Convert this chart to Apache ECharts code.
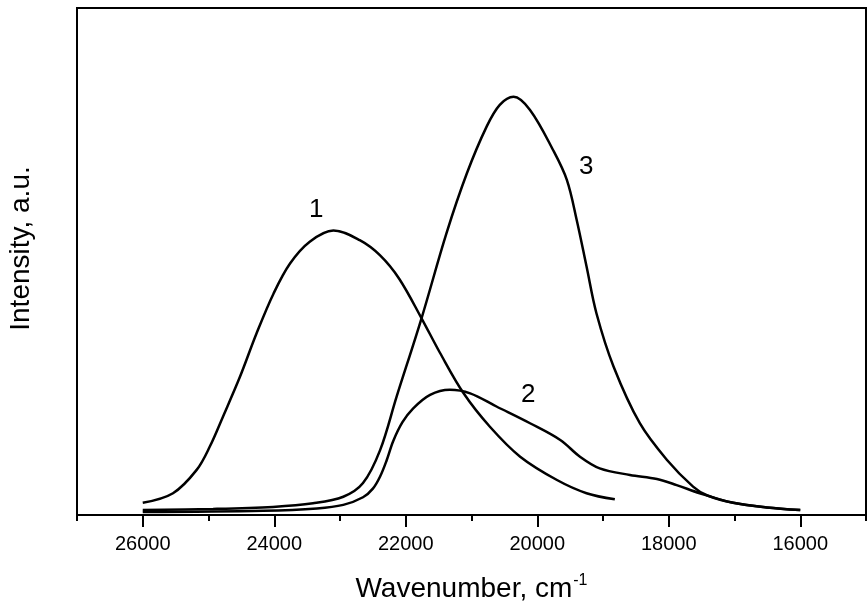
<!DOCTYPE html>
<html>
<head>
<meta charset="utf-8">
<script src="https://cdn.jsdelivr.net/npm/echarts@6/dist/echarts.min.js"></script>
<style>
html,body{margin:0;padding:0;background:#fff;}
#main{width:867px;height:603px;}
</style>
</head>
<body>
<div id="main"></div>
<script>
// curve 1
var curve1X=[26000,25540,25180,24980,24780,24520,24270,24010,23760,23460,23100,22700,22390,22100,21760,21480,21120,20720,20260,19700,19250,18820];
var curve1Y=[2.4,4.3,8.9,13.5,19.4,27.3,35.8,43.7,49.6,53.9,56.1,54.2,51.2,46.6,38.8,32.0,24.0,17.4,11.5,6.9,4.3,3.1];
// curve 2
var curve2X=[26000,24170,23350,22950,22650,22500,22390,22290,22190,22050,21890,21630,21330,21020,20620,20110,19650,19350,19050,18590,18180,17880,17530,17020,16510,16000];
var curve2Y=[0.6,0.85,1.3,2.0,3.5,5.2,7.6,10.8,14.6,18.3,21.0,23.7,24.7,24.0,21.4,18.1,14.8,11.5,9.2,7.9,7.1,5.9,4.3,2.4,1.5,1.0];
// curve 3
var curve3X=[26000,24930,24020,23410,22950,22650,22390,22140,21760,21380,21070,20770,20570,20360,20110,19760,19550,19400,19250,19100,18840,18440,18030,17630,17420,17020,16510,16000];
var curve3Y=[1.0,1.2,1.6,2.3,3.6,6.3,12.8,23.3,38.8,55.6,67.4,76.6,80.9,82.5,79.9,72.0,66.1,58.2,49.0,39.8,29.3,18.1,10.9,5.6,3.9,2.4,1.5,1.0];

var majorTicks=[26000,24000,22000,20000,18000,16000];
var minorTicks=[27000,25000,23000,21000,19000,17000,15000];

var curveNames=['1','2','3'];

function pairs(xs,ys){
	var out=[];
	for(var i=0;i<xs.length;i++){
		out.push([xs[i],ys[i]]);
	}
	return out;
}

var font='"Liberation Sans", Arial, sans-serif';
var myChart=echarts.init(document.getElementById('main'));

function lineSeries(name,xs,ys){
	return {
		name:name,
		type:'line',
		smooth:0.35,
		showSymbol:false,
		symbol:'none',
		lineStyle:{color:'#000',width:2.5},
		data:pairs(xs,ys)
	};
}

var option={
	backgroundColor:'#fff',
	animation:false,
	grid:{left:77,right:1,top:8,bottom:88,outerBoundsMode:'none',containLabel:false,
		show:true,borderColor:'#000',borderWidth:2,backgroundColor:'transparent'},
	xAxis:[
		{
			type:'value',min:15000,max:27000,inverse:true,
			name:'{a|Wavenumber, cm}{b|-1}',
			nameLocation:'middle',nameGap:58,
			nameTextStyle:{
				rich:{
					a:{fontFamily:font,fontSize:28,color:'#000'},
					b:{fontFamily:font,fontSize:16,color:'#000',padding:[0,0,16,1]}
				}
			},
			axisLine:{show:true,lineStyle:{color:'#000',width:2}},
			axisTick:{show:true,inside:false,length:12,lineStyle:{color:'#000',width:2},customValues:majorTicks},
			axisLabel:{show:true,margin:19,color:'#000',fontFamily:font,fontSize:20,customValues:majorTicks,
				formatter:function(v){return String(v);}},
			splitLine:{show:false}
		},
		{
			type:'value',min:15000,max:27000,inverse:true,position:'bottom',
			axisLine:{show:false},
			axisTick:{show:true,inside:false,length:6,lineStyle:{color:'#000',width:2},customValues:minorTicks},
			axisLabel:{show:false},
			splitLine:{show:false}
		}
	],
	yAxis:{
		type:'value',min:0,max:100,
		name:'Intensity, a.u.',
		nameLocation:'middle',nameGap:42,
		nameTextStyle:{fontFamily:font,fontSize:28,color:'#000',padding:[0,0,0,26]},
		axisLine:{show:true,lineStyle:{color:'#000',width:2}},
		axisTick:{show:false},
		axisLabel:{show:false},
		splitLine:{show:false}
	},
	graphic:[
		{type:'text',left:309,top:197,style:{text:curveNames[0],font:'26px '+font,fill:'#000'}},
		{type:'text',left:521,top:382,style:{text:curveNames[1],font:'26px '+font,fill:'#000'}},
		{type:'text',left:579,top:154,style:{text:curveNames[2],font:'26px '+font,fill:'#000'}}
	],
	series:[
		lineSeries(curveNames[0],curve1X,curve1Y),
		lineSeries(curveNames[1],curve2X,curve2Y),
		lineSeries(curveNames[2],curve3X,curve3Y)
	]
};
myChart.setOption(option);
</script>
</body>
</html>
